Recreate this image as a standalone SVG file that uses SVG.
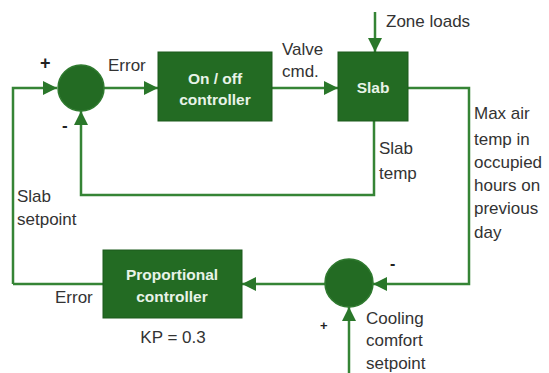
<svg xmlns="http://www.w3.org/2000/svg" width="549" height="373" viewBox="0 0 549 373">
<style>
.box{fill:#236b23;stroke:#1c5a1c;stroke-width:1}
.sum{fill:#236b23;stroke:#2f7a2f;stroke-width:1.5}
.ln{fill:none;stroke:#358435;stroke-width:2.5}
.t{font-family:"Liberation Sans",Arial,sans-serif;font-size:17px;fill:#333}
.w{font-family:"Liberation Sans",Arial,sans-serif;font-size:15.5px;font-weight:bold;fill:#e8f3e8;text-anchor:middle}
.pm{font-family:"Liberation Sans",Arial,sans-serif;font-weight:bold;fill:#222}
</style>
<defs>
<marker id="ah" viewBox="0 0 10 10" refX="10" refY="5" markerWidth="5.6" markerHeight="5.6" orient="auto" markerUnits="strokeWidth">
<path d="M0,0 L10,5 L0,10 z" fill="#2a772a"/>
</marker>
</defs>
<rect width="549" height="373" fill="#fff"/>
<g id="connectors">
<path class="ln" d="M13,284 L13,88 L57,88" marker-end="url(#ah)"/>
<path class="ln" d="M104,88 L158,88" marker-end="url(#ah)"/>
<path class="ln" d="M272,88 L338,88" marker-end="url(#ah)"/>
<path class="ln" d="M375,12 L375,52" marker-end="url(#ah)"/>
<path class="ln" d="M374,121 L374,195 L81,195 L81,111" marker-end="url(#ah)"/>
<path class="ln" d="M408,88 L469,88 L469,284 L373,284" marker-end="url(#ah)"/>
<path class="ln" d="M349,373 L349,307" marker-end="url(#ah)"/>
<path class="ln" d="M325,284 L242,284" marker-end="url(#ah)"/>
<path class="ln" d="M103,284 L13,284"/>
</g>
<g id="sum1"><circle class="sum" cx="81" cy="88" r="23"/></g>
<g id="onoff"><rect class="box" x="158" y="52" width="114" height="69"/>
<text class="w" x="215" y="84">On / off</text><text class="w" x="215" y="105">controller</text></g>
<g id="slab"><rect class="box" x="338" y="52" width="70" height="69"/>
<text class="w" x="373" y="93">Slab</text></g>
<g id="sum2"><circle class="sum" cx="349" cy="283" r="24"/></g>
<g id="prop"><rect class="box" x="103" y="250" width="139" height="68"/>
<text class="w" x="172" y="280">Proportional</text><text class="w" x="172" y="302">controller</text></g>
<g id="labels">
<text class="pm" x="40" y="69" style="font-size:18px">+</text>
<text class="pm" x="62" y="131" style="font-size:17px">-</text>
<text class="t" x="108" y="71">Error</text>
<text class="t" x="282" y="55">Valve</text>
<text class="t" x="282" y="77">cmd.</text>
<text class="t" x="386" y="27">Zone loads</text>
<text class="t" x="379" y="154">Slab</text>
<text class="t" x="379" y="179">temp</text>
<text class="t" x="474" y="119">Max air</text>
<text class="t" x="474" y="145">temp in</text>
<text class="t" x="474" y="168">occupied</text>
<text class="t" x="474" y="191">hours on</text>
<text class="t" x="474" y="214">previous</text>
<text class="t" x="474" y="238">day</text>
<text class="t" x="17" y="202">Slab</text>
<text class="t" x="17" y="225">setpoint</text>
<text class="t" x="55" y="303">Error</text>
<text class="t" x="173" y="343" text-anchor="middle">KP = 0.3</text>
<text class="pm" x="390" y="269" style="font-size:16px">-</text>
<text class="pm" x="320" y="330" style="font-size:13px">+</text>
<text class="t" x="366" y="324">Cooling</text>
<text class="t" x="366" y="346">comfort</text>
<text class="t" x="366" y="369">setpoint</text>
</g>
</svg>
